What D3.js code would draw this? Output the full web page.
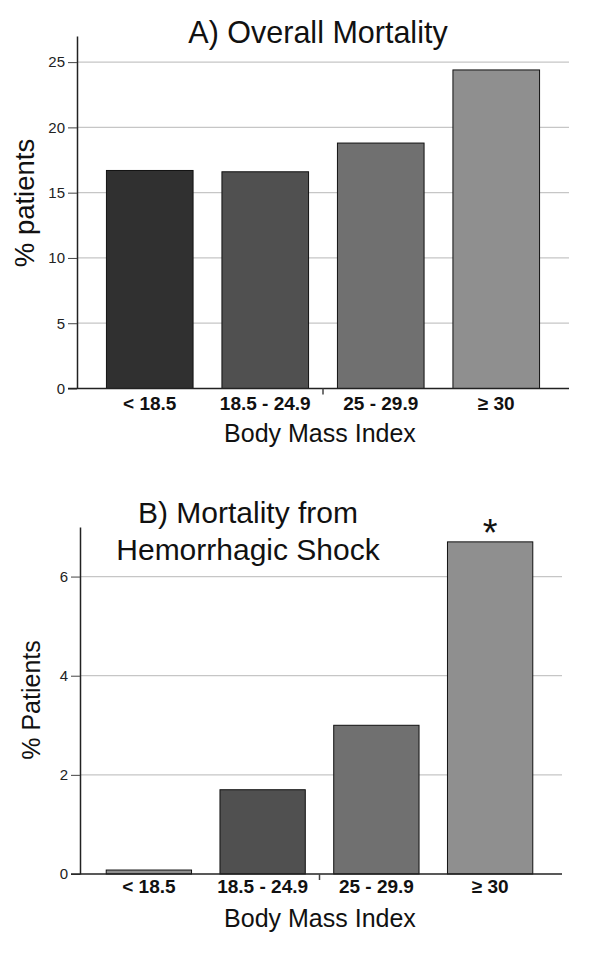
<!DOCTYPE html>
<html>
<head>
<meta charset="utf-8">
<script src="https://cdn.jsdelivr.net/npm/d3@7"></script>
<style>
  body { margin: 0; background: #fff; }
  svg { display: block; font-family: Arial, "Liberation Sans", Helvetica, sans-serif; }
</style>
</head>
<body>
<svg id="chart" width="600" height="962"></svg>
<script>
// data
const categories = ["< 18.5", "18.5 - 24.9", "25 - 29.9", "\u2265 30"];
const overallMortality = [16.7, 16.6, 18.8, 24.4];
const shockMortality = [0.08, 1.7, 3.0, 6.7];
const overallTicks = [0, 5, 10, 15, 20, 25];
const shockTicks = [0, 2, 4, 6];
const shockStars = ["", "", "", "*"];

const colorsA = ["#303030", "#505050", "#707070", "#8f8f8f"];
const colorsB = ["#8f8f8f", "#505050", "#707070", "#8f8f8f"];

const svg = d3.select("#chart");

function drawPanel(opt) {
  const g = svg.append("g");

  const x = d3.scaleBand()
    .domain(categories)
    .range([opt.bandLeft, opt.bandRight])
    .paddingInner(0.25)
    .paddingOuter(0.125);

  const y = d3.scaleLinear()
    .domain([0, opt.yMax])
    .range([opt.bottom, opt.top]);

  // gridlines
  g.selectAll(".grid")
    .data(opt.ticks.filter(t => t > 0))
    .join("line")
    .attr("x1", opt.axisX)
    .attr("x2", opt.right)
    .attr("y1", d => y(d))
    .attr("y2", d => y(d))
    .attr("stroke", "#c6c6c6")
    .attr("stroke-width", 1.2);

  // bars
  g.selectAll(".bar")
    .data(opt.values)
    .join("rect")
    .attr("x", (d, i) => x(categories[i]))
    .attr("y", d => y(d))
    .attr("width", x.bandwidth())
    .attr("height", d => y(0) - y(d))
    .attr("fill", (d, i) => opt.colors[i])
    .attr("stroke", "#111")
    .attr("stroke-width", 1);

  // y axis
  const yAxis = g.append("g")
    .attr("transform", `translate(${opt.axisX},0)`)
    .call(d3.axisLeft(y).tickValues(opt.ticks).tickFormat(d3.format("d"))
      .tickSize(9).tickPadding(3).tickSizeOuter(0));
  yAxis.select(".domain").attr("stroke", "#222").attr("stroke-width", 1.5);
  yAxis.selectAll(".tick line").attr("stroke", "#444");
  yAxis.selectAll(".tick text")
    .attr("font-size", "15px")
    .attr("fill", "#222")
    .attr("font-family", "Arial, 'Liberation Sans', sans-serif");

  // x axis line
  g.append("line")
    .attr("x1", opt.axisX - 9)
    .attr("x2", opt.right)
    .attr("y1", y(0))
    .attr("y2", y(0))
    .attr("stroke", "#222")
    .attr("stroke-width", 1.5);

  // separator tick between 2nd and 3rd group
  const sepX = x(categories[2]) - x.step() * x.paddingInner() / 2;
  g.append("line")
    .attr("x1", sepX).attr("x2", sepX)
    .attr("y1", y(0)).attr("y2", y(0) + 6)
    .attr("stroke", "#444")
    .attr("stroke-width", 1.5);

  // category labels
  const xAxis = g.append("g")
    .attr("transform", `translate(0,${y(0)})`)
    .call(d3.axisBottom(x).tickSize(0).tickPadding(0));
  xAxis.select(".domain").remove();
  xAxis.selectAll(".tick text")
    .attr("dy", null)
    .attr("y", opt.labelY - y(0))
    .attr("font-size", "19px")
    .attr("font-weight", "bold")
    .attr("fill", "#111")
    .attr("font-family", "Arial, 'Liberation Sans', sans-serif");

  // x title
  g.append("text")
    .attr("x", 320)
    .attr("y", opt.xTitleY)
    .attr("text-anchor", "middle")
    .attr("font-size", "25px")
    .attr("fill", "#111")
    .text("Body Mass Index");

  // y title
  g.append("text")
    .attr("transform", `translate(${opt.yTitleX},${opt.yTitleY}) rotate(-90)`)
    .attr("text-anchor", "middle")
    .attr("font-size", opt.yTitleSize)
    .attr("fill", "#111")
    .text(opt.yTitle);

  // chart title
  g.selectAll(".title")
    .data(opt.title)
    .join("text")
    .attr("x", opt.titleX)
    .attr("y", (d, i) => opt.titleY + i * 37)
    .attr("text-anchor", "middle")
    .attr("font-size", opt.titleSize)
    .attr("fill", "#111")
    .text(d => d);

  return { x, y, g };
}

drawPanel({
  values: overallMortality,
  colors: colorsA,
  ticks: overallTicks,
  yMax: 27,
  top: 36,
  bottom: 388.5,
  axisX: 77,
  right: 569,
  bandLeft: 92,
  bandRight: 554,
  labelY: 410,
  xTitleY: 442,
  yTitle: "% patients",
  yTitleX: 34,
  yTitleY: 203,
  yTitleSize: "27.5px",
  title: ["A) Overall Mortality"],
  titleSize: "30.5px",
  titleX: 318,
  titleY: 43
});

const b = drawPanel({
  values: shockMortality,
  colors: colorsB,
  ticks: shockTicks,
  yMax: 7,
  top: 527,
  bottom: 874,
  axisX: 80,
  right: 562,
  bandLeft: 92,
  bandRight: 547,
  labelY: 893,
  xTitleY: 927,
  yTitle: "% Patients",
  yTitleX: 40,
  yTitleY: 700,
  yTitleSize: "25px",
  title: ["B) Mortality from", "Hemorrhagic Shock"],
  titleSize: "30px",
  titleX: 248,
  titleY: 523
});

// significance marker
b.g.selectAll(".star")
  .data(shockMortality)
  .join("text")
  .attr("x", (d, i) => b.x(categories[i]) + b.x.bandwidth() / 2)
  .attr("y", d => b.y(d) + 4)
  .attr("text-anchor", "middle")
  .attr("font-size", "38px")
  .attr("fill", "#111")
  .text((d, i) => shockStars[i]);
</script>
</body>
</html>
